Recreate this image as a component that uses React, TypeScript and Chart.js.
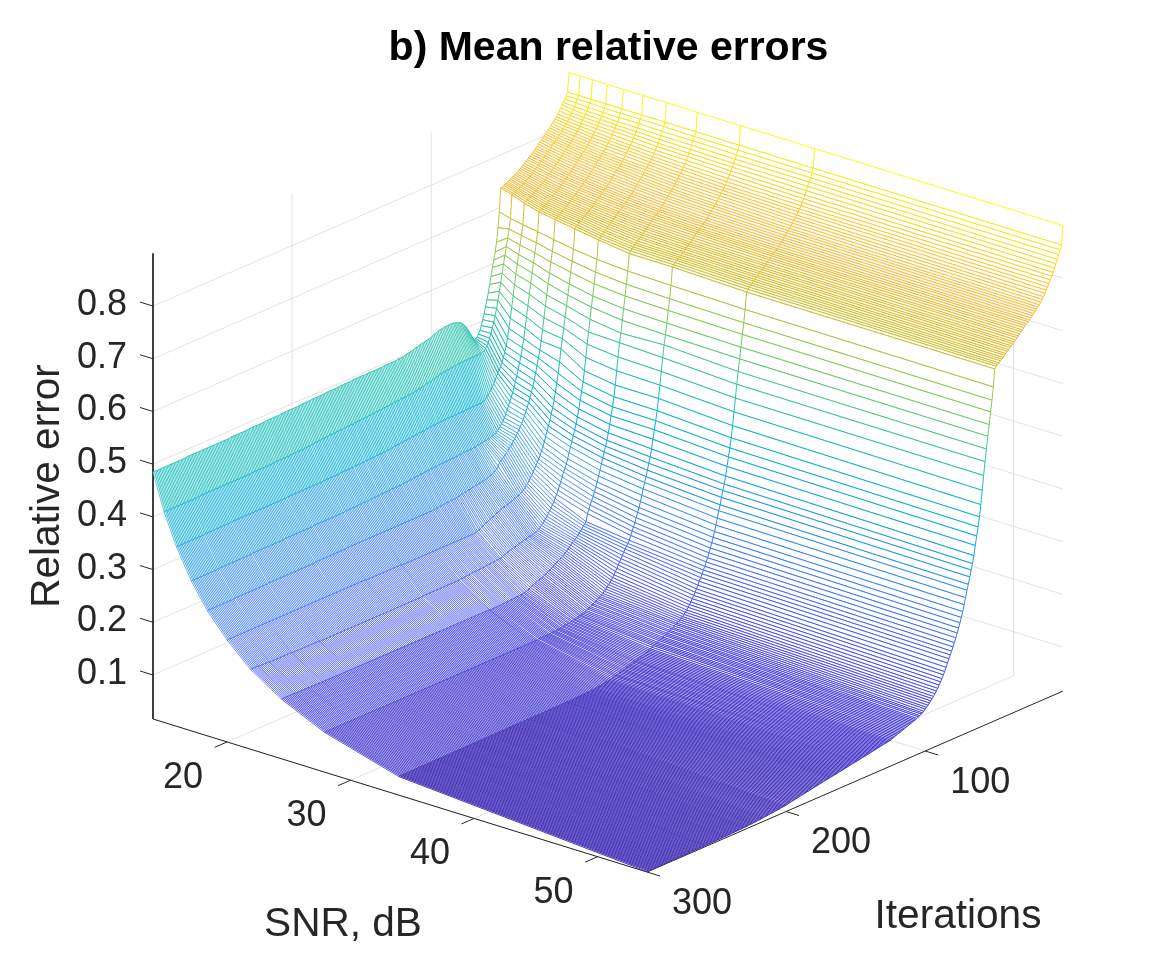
import React, { useEffect, useRef } from "react";
import { Chart, registerables } from "chart.js";

Chart.register(...registerables);

const chartTitle = "b) Mean relative errors";
const snrTicks = [20, 30, 40, 50];
const iterTicks = [100, 200, 300];
const errorTicks = [0.1, 0.2, 0.3, 0.4, 0.5, 0.6, 0.7, 0.8];
const snrLimits = [14, 54];
const iterLimits = [1, 300];
const errorLimits = [0.0165, 0.9];

const snrLevels = [14, 14.9, 15.9, 17.1, 18.4, 20, 21.9, 24.4, 27.9, 33.9, 54];

const iterations = [
  1,2,3,4,5,6,7,8,9,10,11,12,13,14,15,16,17,18,19,20,21,22,23,24,25,26,27,28,29,30,31,32,33,34,35,36,37,38,39,40,41,42,43,44,45,46,47,48,49,50,
  51,52,53,54,55,56,57,58,59,60,61,62,63,64,65,66,67,68,69,70,71,72,73,74,75,76,77,78,79,80,81,82,83,84,85,86,87,88,89,90,91,92,93,94,95,96,97,98,99,100,
  101,102,103,104,105,106,107,108,109,110,111,112,113,114,115,116,117,118,119,120,
  121,122,123,124,125,126,127,128,129,130,131,132,133,134,135,136,137,138,139,140,141,142,143,144,145,146,147,148,149,150,
  151,152,153,154,155,156,157,158,159,160,161,162,163,164,165,166,167,168,169,170,171,172,173,174,175,176,177,178,179,180,181,182,183,184,185,186,187,188,189,190,191,192,193,194,195,196,197,198,199,200,
  201,202,203,204,205,206,207,208,209,210,211,212,213,214,215,216,217,218,219,220,221,222,223,224,225,226,227,228,229,230,231,232,233,234,235,236,237,238,239,240,241,242,243,244,245,246,247,248,249,250,
  251,252,253,254,255,256,257,258,259,260,261,262,263,264,265,266,267,268,269,270,271,272,273,274,275,276,277,278,279,280,281,282,283,284,285,286,287,288,289,290,291,292,293,294,295,296,297,298,299,300,
];

// Relative error x 1000, one list per SNR level, in the order of `iterations`.
const errSnr14 = [
  900,864,858,853,848,844,839,835,830,826,823,820,817,814,811,808,805,803,800,798,795,792,789,786,783,781,778,776,773,771,769,767,764,762,760,758,756,754,752,751,749,748,746,745,743,742,741,740,738,737,
  693,664,638,620,606,593,577,563,548,536,524,512,502,492,484,478,474,472,472,475,480,486,492,497,502,506,510,513,515,516,517,518,519,520,520,520,520,520,520,520,519,519,518,518,517,516,515,514,513,511,
  510,510,509,509,508,507,507,506,505,504,504,503,502,501,501,500,500,499,498,497,
  497,497,497,497,496,496,496,496,496,496,496,496,496,496,495,495,495,495,495,495,495,495,495,495,495,495,495,495,495,495,
  495,495,495,495,495,495,494,494,494,494,494,494,494,494,494,494,493,493,493,493,493,493,493,493,493,493,492,492,492,492,492,492,492,492,492,492,491,491,491,491,491,491,491,491,490,490,490,490,490,490,
  490,490,490,490,490,490,490,490,489,489,489,489,489,489,489,489,489,489,488,488,488,488,488,488,488,488,488,488,488,488,487,487,487,487,487,487,487,487,487,487,487,487,487,487,486,486,486,486,486,486,
  486,486,486,486,486,486,486,486,486,486,486,486,486,486,486,486,486,486,486,486,486,486,486,486,486,486,485,485,485,485,485,485,485,485,485,485,485,485,485,485,485,485,485,485,485,485,485,485,485,485,
];
const errSnr15 = [
  900,864,858,852,846,841,837,833,828,824,820,817,813,810,807,804,801,799,796,794,791,788,785,782,780,777,775,772,770,767,765,762,760,757,755,753,751,749,747,745,743,742,740,739,737,736,735,734,732,731,
  687,668,652,637,622,606,590,574,558,542,528,515,504,494,485,477,470,465,461,458,456,455,455,455,455,455,455,455,455,455,455,455,455,454,454,454,454,454,454,453,453,453,452,452,452,451,451,451,450,450,
  450,449,448,447,447,446,445,444,444,443,443,442,441,440,440,439,439,438,438,437,
  437,436,436,436,436,435,435,435,435,435,434,434,434,434,433,433,433,433,432,432,432,432,431,431,431,431,431,430,430,430,
  430,430,429,429,429,429,429,428,428,428,428,428,428,427,427,427,427,427,427,426,426,426,426,426,426,425,425,425,425,425,425,424,424,424,424,424,424,423,423,423,423,423,422,422,421,421,421,421,420,420,
  420,420,420,420,420,420,420,420,419,419,419,419,419,419,419,419,419,419,419,419,418,418,418,418,418,418,418,418,418,418,418,418,418,418,418,418,417,417,417,417,417,417,417,417,417,417,417,417,417,417,
  417,417,417,417,417,417,417,417,417,417,417,417,417,417,417,417,417,417,417,417,417,417,417,417,416,416,416,416,416,416,416,416,416,416,416,416,416,416,416,416,416,416,416,416,416,416,416,416,416,416,
];
const errSnr16 = [
  900,864,858,851,845,840,835,831,826,822,818,815,811,808,804,801,798,795,793,790,787,784,781,778,775,772,770,767,765,762,760,757,755,752,749,747,745,743,741,739,737,736,734,732,730,729,727,726,724,722,
  682,663,646,629,612,594,575,555,535,515,497,480,466,455,446,438,432,426,421,416,410,405,400,395,391,388,385,382,380,379,378,378,378,378,378,378,378,378,378,378,378,378,377,377,377,377,377,377,377,377,
  377,377,377,377,377,377,376,376,376,376,376,376,375,375,375,375,375,375,375,374,
  374,373,373,373,373,372,372,371,371,371,371,370,370,370,370,369,369,369,369,368,368,368,368,367,367,366,366,366,366,365,
  365,365,365,365,365,365,364,364,364,364,364,364,364,364,363,363,363,363,363,363,363,363,362,362,362,362,362,362,362,362,362,362,361,361,361,361,361,361,361,361,361,361,361,361,360,360,360,360,360,360,
  360,360,360,360,360,360,360,360,360,360,360,360,360,360,360,360,360,360,360,360,359,359,359,359,359,359,359,359,359,359,359,359,359,359,359,359,359,359,359,359,359,359,359,359,359,359,359,359,359,359,
  359,359,359,359,359,359,359,359,359,359,358,358,358,358,358,358,358,358,358,358,358,358,358,358,358,358,358,358,358,358,357,357,357,357,357,357,357,357,357,357,357,357,357,357,357,357,357,357,357,357,
];
const errSnr17 = [
  900,864,857,850,844,839,834,829,825,820,816,812,808,805,801,798,795,792,789,786,783,780,777,774,771,768,765,762,760,757,755,752,750,747,744,742,740,738,736,733,731,729,727,725,723,721,720,718,716,714,
  678,658,640,622,604,586,566,545,525,505,486,470,456,444,432,421,411,402,393,385,378,371,364,358,352,347,343,339,336,333,331,329,328,327,326,325,325,324,324,323,323,322,322,322,321,321,321,320,320,320,
  320,320,320,320,319,319,319,319,318,318,318,318,318,318,317,317,317,317,317,317,
  317,317,316,316,316,316,316,316,315,315,315,315,314,314,314,314,313,313,313,313,312,312,312,312,311,311,311,311,310,310,
  310,310,310,310,310,310,309,309,309,309,309,309,309,309,308,308,308,308,308,308,308,308,307,307,307,307,307,307,307,307,306,306,306,306,306,306,306,306,306,306,305,305,305,305,305,305,305,305,305,305,
  305,305,305,305,305,305,305,305,305,305,305,305,304,304,304,304,304,304,304,304,304,304,304,304,304,304,304,304,304,304,304,304,303,303,303,303,303,303,303,303,303,303,303,303,303,303,303,303,303,303,
  303,303,303,303,303,303,302,302,302,302,302,302,302,302,302,302,302,302,302,302,302,302,302,302,302,302,302,302,302,302,301,301,301,301,301,301,301,301,301,301,301,301,301,301,301,301,301,301,301,301,
];
const errSnr18 = [
  900,864,857,850,843,838,833,828,823,818,814,810,806,802,798,795,792,789,786,783,780,777,773,770,767,764,761,758,756,753,751,748,746,743,740,738,736,734,732,729,727,725,723,721,719,717,715,713,711,709,
  672,651,632,612,593,573,553,532,510,490,474,460,447,434,422,411,401,392,384,376,369,362,356,350,345,340,335,331,327,323,319,316,313,310,307,304,301,298,296,294,288,284,282,280,278,277,276,275,274,273,
  273,272,272,271,271,270,270,269,269,268,268,267,267,266,266,265,265,264,264,263,
  263,262,262,262,262,261,261,261,261,260,260,260,260,259,259,259,259,258,258,258,258,258,258,258,258,258,258,258,258,258,
  258,258,258,258,258,258,258,258,258,258,258,258,258,258,258,258,258,258,258,258,258,258,258,258,258,258,258,258,258,258,258,258,258,258,258,258,258,258,258,258,258,258,258,258,258,258,258,258,258,258,
  257,257,257,257,257,257,257,257,257,257,257,257,257,257,257,257,257,257,257,257,257,257,256,256,256,256,256,256,256,256,256,256,256,256,256,256,256,256,256,256,256,256,256,256,256,256,256,256,256,256,
  256,256,256,256,256,256,255,255,255,255,255,255,255,255,255,255,255,255,255,255,255,255,255,255,255,255,255,255,255,255,254,254,254,254,254,254,254,254,254,254,254,254,254,254,254,254,254,254,254,254,
];
const errSnr20 = [
  900,864,857,850,843,837,832,827,821,816,812,808,804,800,795,792,789,786,783,780,777,773,770,767,763,760,757,754,752,749,747,744,742,739,736,734,732,730,727,725,723,721,719,717,715,713,711,708,706,703,
  666,644,624,603,583,564,544,524,505,487,463,443,425,409,395,382,371,361,351,342,333,324,316,309,302,296,291,286,281,276,271,267,263,259,256,253,250,248,246,244,243,242,241,240,239,238,237,236,236,235,
  234,233,232,230,229,228,227,225,224,223,222,220,219,218,217,215,214,212,211,209,
  209,208,208,208,208,208,208,208,208,208,208,208,208,208,208,208,208,208,208,208,208,208,208,208,208,208,208,208,208,208,
  208,208,208,208,208,208,208,208,208,208,208,208,208,208,208,208,208,208,208,208,208,208,208,208,209,209,209,209,209,209,209,209,209,209,209,209,209,209,209,209,209,209,209,209,209,209,209,209,209,209,
  210,210,210,210,210,210,210,210,210,210,210,210,210,210,210,210,210,210,210,210,210,210,210,210,210,210,210,210,210,210,210,210,210,210,210,210,210,210,210,210,210,210,210,210,210,210,210,210,210,210,
  210,210,210,210,210,210,210,210,210,210,210,210,210,210,210,210,210,210,210,210,210,210,210,210,210,210,210,210,210,210,210,210,210,210,210,210,210,210,210,210,210,210,210,210,210,210,210,210,210,210,
];
const errSnr22 = [
  900,864,857,849,842,836,830,825,819,814,809,805,801,797,793,790,786,783,779,776,773,769,766,763,759,756,753,750,748,745,743,740,738,735,732,730,728,725,723,720,718,716,713,711,708,706,703,701,698,696,
  660,637,616,594,574,552,529,507,483,459,439,422,406,391,377,365,355,345,335,326,316,306,297,290,284,276,268,261,254,247,241,236,231,226,222,218,214,210,207,204,201,198,196,195,193,192,191,190,190,190,
  189,188,188,187,186,185,185,184,183,182,182,181,180,179,178,177,176,175,174,172,
  172,172,172,171,171,171,171,170,170,170,170,169,169,169,169,168,168,168,168,168,168,167,167,167,167,166,166,166,166,165,
  165,165,165,165,165,165,165,165,165,165,165,165,165,165,165,165,165,165,165,165,165,165,165,165,165,165,164,164,164,164,164,164,164,164,164,164,164,164,164,164,164,164,164,164,164,164,164,164,164,164,
  164,164,164,164,164,164,164,164,164,164,164,164,164,164,164,164,164,164,164,164,164,164,164,164,164,164,164,164,164,164,164,164,164,164,164,164,164,164,164,164,164,164,164,164,164,164,164,164,164,164,
  165,165,165,165,165,165,165,165,165,165,165,165,165,165,165,165,165,165,165,165,166,166,166,166,166,166,166,166,166,166,166,166,166,166,166,166,167,167,167,167,167,167,167,167,168,168,168,168,168,168,
];
const errSnr24 = [
  900,864,856,849,842,835,829,824,818,812,807,803,798,794,790,786,782,779,775,772,769,765,762,759,755,752,749,746,744,741,739,736,734,731,728,726,723,721,718,715,713,710,708,705,702,700,697,695,692,688,
  656,632,611,588,567,544,527,501,476,450,429,411,395,380,365,352,342,332,322,312,301,291,281,273,265,257,250,243,236,229,215,212,209,205,202,199,196,193,190,188,186,183,180,178,175,173,171,169,167,165,
  164,162,160,158,157,155,153,152,151,149,148,146,145,144,143,142,141,140,139,138,
  136,134,133,132,131,131,130,130,130,129.5,129.5,129.3,129.1,128.9,128.7,128.5,128.3,128.1,127.9,127.7,127.5,127.4,127.3,127.2,127.1,127,126.9,126.8,126.7,126.6,
  127.5,127.5,127.5,127.5,127.5,127.5,127.5,127.5,127.5,127.5,127.5,127.5,127.6,127.6,127.6,127.6,127.6,127.6,127.6,127.6,127.6,127.6,127.6,127.6,127.7,127.7,127.7,127.7,127.7,127.7,127.7,127.7,127.7,127.7,127.7,127.7,127.7,127.8,127.8,127.8,127.8,127.8,127.8,127.8,127.8,127.8,127.8,127.8,127.8,127.8,
  127.9,127.9,127.9,127.9,127.9,127.9,127.9,127.9,127.9,127.9,127.9,127.9,128,128,128,128,128,128,128,128,128,128,128,128,128,128.1,128.1,128.1,128.1,128.1,128.1,128.1,128.1,128.1,128.1,128.1,128.1,128.2,128.2,128.2,128.2,128.2,128.2,128.2,128.2,128.2,128.2,128.2,128.2,128.2,
  128.3,128.3,128.3,128.3,128.3,128.3,128.3,128.3,128.3,128.3,128.6,128.6,128.6,128.6,128.6,128.6,128.6,128.6,128.6,128.6,129,129,129,129,129,129,129,129,129,129,129.4,129.4,129.4,129.4,129.4,129.4,129.4,129.4,129.4,129.4,129.8,129.8,129.8,129.8,129.8,129.8,129.8,129.8,129.8,129.8,
];
const errSnr28 = [
  900,864,856,848,841,834,828,822,816,810,805,800,796,792,788,784,780,776,772,769,766,762,759,756,752,749,746,744,741,738,736,734,732,729,726,723,720,718,716,713,711,708,706,703,701,699,697,694,691,688,
  654,630,609,586,565,547,524,499,474,450,428,410,394,377,360,346,335,323,312,302,291,280,269,259,251,242,234,227,220,213,205,200,196,192,187,182,177,172,167,162,157,152,148,144,141,138,135,132,129,126,
  124,122,121,119,117,116,114,113,111,110,109,107,106,105,104,103,103,102,101,100,
  100,99,99,98,98,97,97,96,96,95,95,95,95,94,94,94,94,93,93,93,93,93,93,93,93,93,92,92,92,92,
  92,92,92,92,92,92,92,92,92,92,92,92,92,92,92,92,92,92,92,92,92,92,92,92,92,92,92,92,92,92,92,92,92,92,92,92,92,92,92,92,92,92,92,92,92,92,92,92,92,92,
  92,92,92,92,92,92,92,92,92,92,92,92,92,92,92,92,92,92,92,92,92,92,92,92,92,92,92,92,92,92,92,92,92,92,92,92,92,92,92,92,92,92,92,92,92,92,92,92,92,92,
  92,92,92,92,92,92,92,92,92,92,92,92,92,92,92,92,92,92,92,92,92,92,92,92,92,92,92,92,92,92,92,92,92,92,92,92,92,92,92,92,92,92,92,92,92,92,92,92,92,92,
];
const errSnr34 = [
  900,864,856,848,841,834,827,820,814,808,803,798,794,789,785,781,777,773,769,766,763,759,756,753,750,747,744,741,739,736,734,732,729,727,724,721,719,716,714,711,709,706,704,701,699,696,694,691,688,684,
  652,628,607,584,563,540,517,492,467,442,420,402,386,369,352,338,327,315,302,292,279,267,256,246,237,228,220,212,205,198,192,186,180,174,168,162,157,152,147,142,138,134,130,127,124,121,119,117,115,113,
  112,110,108,107,105,104,102,101,100,98,97,96,95,93,92,91,90,88,86,85,
  84,83,82,81,80,79,78,77,76,75.5,75,74,73,72.3,71.6,71,70,69,68.4,67.8,67,66,65,64.5,64,63,62,61.3,60.7,60.3,
  60,59.5,59,58.6,58.2,57.8,57.4,57,56.7,56.4,56.1,55.9,55.7,55.5,55.4,55.3,55.2,55.1,55,54.95,54.9,54.85,54.8,54.75,54.7,54.65,54.6,54.55,54.5,54.5,54.45,54.4,54.4,54.35,54.3,54.3,54.25,54.2,54.2,54.15,54.1,54.1,54.05,54,54,53.95,53.9,53.9,53.85,53.8,
  53.8,53.78,53.76,53.74,53.72,53.7,53.68,53.66,53.64,53.62,53.6,53.58,53.56,53.54,53.52,53.5,53.48,53.46,53.44,53.42,53.4,53.38,53.36,53.34,53.32,53.3,53.28,53.26,53.24,53.22,53.2,53.18,53.16,53.14,53.12,53.1,53.08,53.06,53.04,53.02,53,52.98,52.96,52.94,52.92,52.9,52.88,52.86,52.84,52.82,
  52.8,52.78,52.76,52.74,52.72,52.7,52.68,52.66,52.64,52.62,52.6,52.58,52.56,52.54,52.52,52.5,52.48,52.46,52.44,52.42,52.4,52.38,52.36,52.34,52.32,52.3,52.28,52.26,52.24,52.22,52.2,52.18,52.16,52.14,52.12,52.1,52.08,52.06,52.04,52.02,52,51.98,51.96,51.94,51.92,51.9,51.88,51.86,51.84,51.82,
];
const errSnr54 = [
  900,864,856,848,840,833,826,819,813,807,801,796,791,786,781,777,773,769,766,763,760,757,754,751,748,746,743,741,738,735,733,730,727,725,722,719,717,714,712,709,707,704,702,699,697,695,692,690,688,684,
  651,627,606,583,562,539,516,491,464,438,416,398,382,365,347,333,322,310,297,287,274,262,250,240,231,222,214,206,198,191,184,178,172,165,158,151,146,140,135,130,125,121,117,113,110,107,104,101,98,96,
  93,91,90,88,87,85,84,83,82,81,80,79,78,77,76,75,74,73,72,71,
  70,69,68,67,66,65.4,64.8,64.3,63.8,63.3,62.8,62.3,61.8,61.3,60.8,60.3,59.8,59.3,58.8,58.3,57.8,57.3,56.8,56.3,55.8,55.3,54.8,54.3,53.8,53.4,
  53,52.5,52,51.5,51,50.5,50,49.5,49,48.5,48,47.5,47,46.5,46,45.6,45.2,44.8,44.4,44,43.5,43,42.5,42,41.5,41,40.5,40,39.5,39,38.5,38,37.5,37,36.5,36,35.5,35,34.5,34,33.5,33,32.5,32,31.5,31,30.5,30,29.3,28.6,
  28.2,27.9,27.6,27.3,27,26.7,26.4,26.1,25.8,25.5,25.2,24.9,24.6,24.3,24,23.7,23.4,23.1,22.9,22.7,22.5,22.3,22.1,21.9,21.7,21.5,21.3,21.1,20.9,20.8,20.7,20.6,20.5,20.4,20.3,20.2,20.1,20,19.9,19.8,19.7,19.6,19.5,19.5,19.4,19.4,19.3,19.3,19.2,19.2,
  19.1,19.1,19,19,18.9,18.9,18.9,18.8,18.8,18.8,18.7,18.7,18.7,18.6,18.6,18.6,18.5,18.5,18.5,18.4,18.4,18.4,18.3,18.3,18.3,18.2,18.2,18.2,18.1,18.1,18.1,18,18,18,17.9,17.9,17.9,17.8,17.8,17.8,17.7,17.7,17.7,17.6,17.6,17.6,17.5,17.5,17.5,17.4,
];

const errorColumns = [errSnr14, errSnr15, errSnr16, errSnr17, errSnr18, errSnr20, errSnr22, errSnr24, errSnr28, errSnr34, errSnr54];

const TEXT = "#262626";
const GRID = "#e2e2e2";
const SANS = "'Liberation Sans', Arial, sans-serif";
const PARULA_STOPS = [0, 0.111, 0.222, 0.333, 0.444, 0.556, 0.667, 0.778, 0.83, 0.889, 0.94, 1];
const PARULA = [
  [62, 38, 168], [71, 71, 235], [62, 111, 255], [39, 150, 235], [8, 181, 208],
  [49, 197, 160], [129, 204, 89], [220, 189, 41], [250, 186, 60], [254, 200, 50], [246, 228, 33], [249, 251, 21],
];

function colorFor(z: number) {
  const t = Math.min(1, Math.max(0, (z - errorLimits[0]) / (errorLimits[1] - errorLimits[0])));
  let i = 0;
  while (i < PARULA.length - 2 && t > PARULA_STOPS[i + 1]) i++;
  const f = (t - PARULA_STOPS[i]) / (PARULA_STOPS[i + 1] - PARULA_STOPS[i]);
  const c = PARULA[i].map((v, k) => Math.round(v + (PARULA[i + 1][k] - v) * f));
  return `rgb(${c[0]},${c[1]},${c[2]})`;
}

// Fixed view of the 3-D box, mapped onto the two hidden linear scales.
function project(snr: number, iter: number, z: number) {
  const ds = snr - snrLimits[0];
  const di = iterLimits[1] - iter;
  return {
    x: 153 + ds * 12.35 + di * 1.391,
    y: 719 + ds * 3.825 - di * 0.605 - (z - errorLimits[0]) * 527,
    z,
  };
}

const GAP = { x: null as any, y: null as any, z: 0 };

function plainLine(points: any[], color: string, width: number) {
  return { data: points, borderColor: color, borderWidth: width, pointRadius: 0, fill: false, clip: false, tension: 0, spanGaps: false };
}

function rowLineWidth(iter: number, seg: number) {
  if (iter < 70) return 1;
  if (seg >= 9) return 0.95;
  if (seg >= 7) return 0.85;
  return 0.7;
}

function buildDatasets() {
  const out: any[] = [];
  const [zLo, zHi] = errorLimits;
  const [sLo, sHi] = snrLimits;
  const [iLo, iHi] = iterLimits;
  for (const z of errorTicks) {
    out.push(plainLine([project(sLo, iHi, z), project(sLo, iLo, z), project(sHi, iLo, z)], GRID, 1));
  }
  for (const s of snrTicks) {
    out.push(plainLine([project(s, iHi, zLo), project(s, iLo, zLo), project(s, iLo, zHi)], GRID, 1));
  }
  for (const i of iterTicks) {
    out.push(plainLine([project(sHi, i, zLo), project(sLo, i, zLo), project(sLo, i, zHi)], GRID, 1));
  }
  out.push(plainLine([project(sLo, iHi, zHi), project(sLo, iHi, zLo), project(sHi, iHi, zLo), project(sHi, iLo, zLo)], TEXT, 1));
  for (const z of errorTicks) out.push(plainLine([project(sLo, iHi, z), project(sLo - 1.05, iHi, z)], TEXT, 1));
  for (const s of snrTicks) out.push(plainLine([project(s, iHi, zLo), project(s, iHi + 9, zLo)], TEXT, 1));
  for (const i of iterTicks) out.push(plainLine([project(sHi, i, zLo), project(sHi + 1.05, i, zLo)], TEXT, 1));

  const vertex = (c: number, r: number) => project(snrLevels[c], iterations[r], errorColumns[c][r] / 1000);
  const cols = snrLevels.map((_, c) => c);
  for (let r = 0; r < iterations.length - 1; r++) {
    const near = cols.map((c) => vertex(c, r));
    const far = cols.map((c) => vertex(c, r + 1));
    out.push({
      data: [...near, ...[...far].reverse(), near[0]],
      borderWidth: 0,
      borderColor: "rgba(0,0,0,0)",
      backgroundColor: "#ffffff",
      fill: "shape",
      pointRadius: 0,
      clip: false,
      tension: 0,
    });
    const pts: any[] = [...near, GAP, ...far, GAP];
    const farStart = near.length + 1;
    const colStart = farStart + far.length + 1;
    for (const c of cols) pts.push(near[c], far[c], GAP);
    out.push({
      data: pts,
      borderWidth: 0.9,
      borderColor: colorFor(near[6].z),
      pointRadius: 0,
      fill: false,
      clip: false,
      tension: 0,
      spanGaps: false,
      segment: {
        borderColor: (ctx: any) => colorFor((pts[ctx.p0DataIndex].z + pts[ctx.p1DataIndex].z) / 2),
        borderWidth: (ctx: any) => {
          const i = ctx.p0DataIndex;
          if (i >= colStart) return 1;
          return i >= farStart ? rowLineWidth(iterations[r + 1], i - farStart) : rowLineWidth(iterations[r], i);
        },
      },
    });
  }
  out.forEach((d, i) => { d.order = -i; });
  return out;
}

const textPlugin = {
  id: "boxText",
  afterDraw(chart: any) {
    const { ctx, scales } = chart;
    const at = (p: any) => [scales.x.getPixelForValue(p.x), scales.y.getPixelForValue(p.y)];
    const [zLo] = errorLimits;
    ctx.save();
    ctx.fillStyle = TEXT;
    ctx.textBaseline = "middle";
    ctx.font = `36px ${SANS}`;
    ctx.textAlign = "right";
    for (const z of errorTicks) {
      const [x, y] = at(project(snrLimits[0], iterLimits[1], z));
      ctx.fillText(z.toFixed(1), x - 26, y - 1);
    }
    ctx.textAlign = "center";
    for (const s of snrTicks) {
      const [x, y] = at(project(s, iterLimits[1], zLo));
      ctx.fillText(String(s), x - 44, y + 36);
    }
    for (const i of iterTicks) {
      const [x, y] = at(project(snrLimits[1], i, zLo));
      ctx.fillText(String(i), x + 55, y + 32);
    }
    ctx.font = `40.6px ${SANS}`;
    ctx.fillText("SNR, dB", 343, 925);
    ctx.fillText("Iterations", 958, 917);
    ctx.translate(48, 486);
    ctx.rotate(-Math.PI / 2);
    ctx.fillText("Relative error", 0, 0);
    ctx.restore();
  },
};

export default function App() {
  const ref = useRef<HTMLCanvasElement>(null);
  useEffect(() => {
    const chart = new Chart(ref.current as HTMLCanvasElement, {
      type: "line",
      data: { datasets: buildDatasets() },
      plugins: [textPlugin],
      options: {
        animation: false,
        responsive: false,
        events: [],
        layout: { padding: { left: 42, right: 0, top: 0, bottom: 0 } },
        scales: {
          x: { type: "linear", display: false, min: 42, max: 1175 },
          y: { type: "linear", display: false, min: 73.2, max: 980, reverse: true },
        },
        plugins: {
          legend: { display: false },
          tooltip: { enabled: false },
          title: {
            display: true,
            text: chartTitle,
            fullSize: false,
            color: "#000000",
            font: { family: SANS, size: 41, weight: "bold" },
            padding: { top: 24, bottom: 0 },
          },
        },
      },
    } as any);
    return () => chart.destroy();
  }, []);
  return (
    <canvas
      ref={ref}
      width={1175}
      height={980}
      style={{ position: "fixed", left: 0, top: 0, width: 1175, height: 980, background: "#fff" }}
    />
  );
}
